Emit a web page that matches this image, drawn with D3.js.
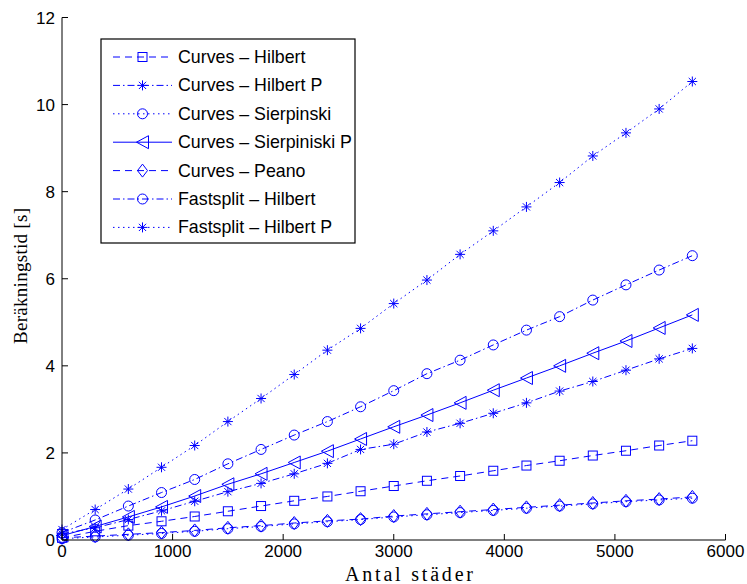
<html>
<head>
<meta charset="utf-8">
<style>
  body { margin:0; background:white; }
  svg text { font-family: "Liberation Sans", Arial, sans-serif; }
</style>
</head>
<body>
<svg width="747" height="584"></svg>
<script src="https://d3js.org/d3.v7.min.js"></script>
<script>
// number of cities
var cities = [0,300,600,900,1200,1500,1800,2100,2400,2700,3000,3300,3600,3900,4200,4500,4800,5100,5400,5700];

// computing time [s]
var curvesHilbert     = [0.05,0.20,0.33,0.43,0.54,0.66,0.78,0.90,1.00,1.12,1.24,1.36,1.47,1.59,1.71,1.82,1.94,2.05,2.17,2.28];
var curvesHilbertP    = [0.14,0.28,0.47,0.67,0.89,1.11,1.30,1.52,1.76,2.08,2.20,2.48,2.68,2.91,3.15,3.42,3.64,3.90,4.16,4.40];
var curvesSierpinski  = [0.03,0.07,0.11,0.15,0.20,0.26,0.31,0.37,0.42,0.47,0.53,0.58,0.63,0.68,0.73,0.78,0.83,0.88,0.92,0.96];
var curvesSierpinskiP = [0.10,0.31,0.53,0.76,1.01,1.28,1.52,1.78,2.04,2.32,2.60,2.87,3.15,3.44,3.72,4.00,4.29,4.57,4.87,5.17];
var curvesPeano       = [0.05,0.09,0.13,0.17,0.22,0.28,0.33,0.39,0.44,0.48,0.55,0.60,0.65,0.70,0.75,0.80,0.85,0.90,0.94,0.99];
var fastHilbert       = [0.17,0.46,0.78,1.09,1.39,1.75,2.08,2.41,2.72,3.06,3.43,3.82,4.13,4.48,4.82,5.13,5.51,5.86,6.20,6.53];
var fastHilbertP      = [0.24,0.70,1.17,1.67,2.17,2.72,3.25,3.80,4.36,4.86,5.43,5.97,6.56,7.10,7.65,8.21,8.82,9.35,9.90,10.53];

var seriesNames = ['Curves \u2013 Hilbert','Curves \u2013 Hilbert P','Curves \u2013 Sierpinski','Curves \u2013 Sierpiniski P','Curves \u2013 Peano','Fastsplit \u2013 Hilbert','Fastsplit \u2013 Hilbert P'];
var seriesValues = [curvesHilbert,curvesHilbertP,curvesSierpinski,curvesSierpinskiP,curvesPeano,fastHilbert,fastHilbertP];
var xTicks = [0,1000,2000,3000,4000,5000,6000];
var yTicks = [0,2,4,6,8,10,12];

// style per series: dash pattern + marker
var dashes = ['7,5','7,3,1.5,3','1.5,3.5',null,'7,5','7,3,1.5,3','1.5,3.5'];
var markers = ['square','asterisk','circle','triangle','diamond','circle','asterisk'];
var blue = '#0000ff';

var svg = d3.select('svg');
var x = d3.scaleLinear().domain([0,6000]).range([62,725.5]);
var y = d3.scaleLinear().domain([0,12]).range([540,17.5]);

function drawMarker(g, type, cx, cy) {
  var s = g.append('g').attr('transform','translate('+cx+','+cy+')')
    .attr('fill','none').attr('stroke',blue).attr('stroke-width',1);
  if (type === 'square') {
    s.append('rect').attr('x',-4.5).attr('y',-4.5).attr('width',9).attr('height',9);
  } else if (type === 'circle') {
    s.append('circle').attr('r',5);
  } else if (type === 'diamond') {
    s.append('path').attr('d','M0,-6.5L5,0L0,6.5L-5,0Z');
  } else if (type === 'triangle') {
    s.append('path').attr('d','M-6,0L6,-6.5L6,6.5Z');
  } else if (type === 'asterisk') {
    var r = 5, d = 3.6;
    s.append('path').attr('d','M0,'+(-r)+'V'+r+'M'+(-r)+',0H'+r+
      'M'+(-d)+','+(-d)+'L'+d+','+d+'M'+(-d)+','+d+'L'+d+','+(-d));
  }
}

// series
var line = d3.line().x(function(d){return x(d[0]);}).y(function(d){return y(d[1]);});
seriesValues.forEach(function(vals,i){
  var pts = cities.map(function(c,j){return [c,vals[j]];});
  var g = svg.append('g');
  g.append('path').datum(pts).attr('d',line)
    .attr('fill','none').attr('stroke',blue).attr('stroke-width',1)
    .attr('stroke-dasharray',dashes[i]);
  pts.forEach(function(p){ drawMarker(g, markers[i], x(p[0]), y(p[1])); });
});

// axes
var ax = svg.append('g').attr('stroke','black').attr('stroke-width',1);
ax.append('line').attr('x1',x(0)).attr('x2',x(6000)).attr('y1',y(0)).attr('y2',y(0));
ax.append('line').attr('x1',x(0)).attr('x2',x(0)).attr('y1',y(0)).attr('y2',y(12));
xTicks.forEach(function(t){
  ax.append('line').attr('x1',x(t)).attr('x2',x(t)).attr('y1',y(0)).attr('y2',y(0)-6);
  svg.append('text').attr('x',x(t)).attr('y',557).attr('text-anchor','middle')
    .attr('font-size',17).text(t);
});
yTicks.forEach(function(t){
  ax.append('line').attr('x1',x(0)).attr('x2',x(0)+6).attr('y1',y(t)).attr('y2',y(t));
  svg.append('text').attr('x',55).attr('y',y(t)+6).attr('text-anchor','end')
    .attr('font-size',17).text(t);
});

// axis labels
svg.append('text').attr('x',409).attr('y',581).attr('text-anchor','middle')
  .style('font-family','"Liberation Serif", "DejaVu Serif", serif').attr('font-size',20)
  .attr('textLength',128).text('Antal st\u00e4der');
svg.append('text').attr('transform','translate(27,276) rotate(-90)').attr('text-anchor','middle')
  .style('font-family','"Liberation Serif", "DejaVu Serif", serif').attr('font-size',19)
  .attr('textLength',136).text('Ber\u00e4kningstid [s]');

// legend
var lg = svg.append('g');
lg.append('rect').attr('x',101).attr('y',39).attr('width',254).attr('height',204)
  .attr('fill','white').attr('stroke','black').attr('stroke-width',1.2);
seriesNames.forEach(function(name,i){
  var ly = 57 + i*28.4;
  lg.append('line').attr('x1',113).attr('x2',172).attr('y1',ly).attr('y2',ly)
    .attr('stroke',blue).attr('stroke-width',1).attr('stroke-dasharray',dashes[i]);
  drawMarker(lg, markers[i], 142.5, ly);
  lg.append('text').attr('x',178).attr('y',ly+6).attr('font-size',17.8).text(name);
});
</script>
</body>
</html>
